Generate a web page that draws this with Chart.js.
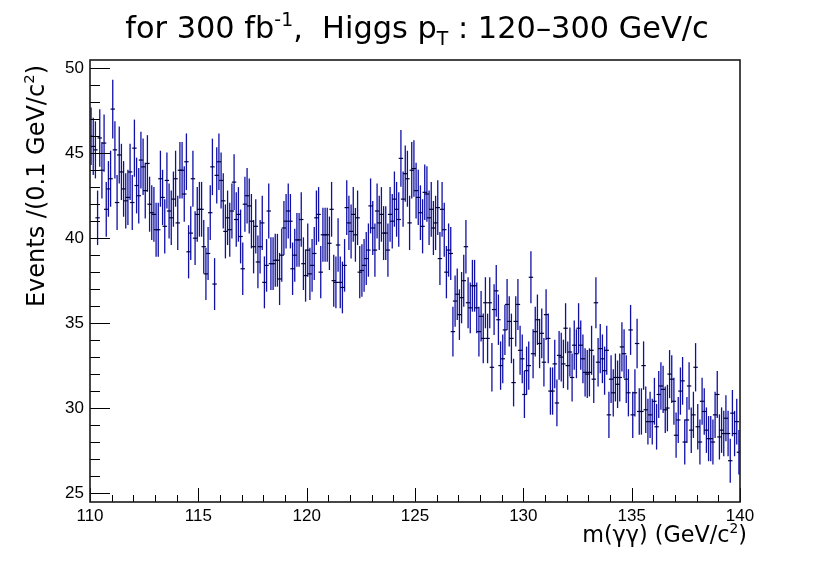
<!DOCTYPE html>
<html><head><meta charset="utf-8">
<script src="https://cdn.jsdelivr.net/npm/chart.js@4.4.1/dist/chart.umd.min.js"></script>
<style>
html,body{margin:0;padding:0;background:#fff;}
#wrap{position:relative;width:830px;height:563px;overflow:hidden;background:#fff;}
#c{position:absolute;left:0;top:0;}
.t{position:absolute;font-family:"DejaVu Sans",sans-serif;color:#000;white-space:nowrap;line-height:1;}
.t sup,.t sub{font-size:0.62em;position:relative;vertical-align:baseline;line-height:0;}
.t sup{top:-0.65em;}
.t sub{top:0.35em;}
#title{font-size:30.4px;left:2px;width:830px;text-align:center;top:13px;}
#ytitle{font-size:24px;width:320px;text-align:right;left:24px;top:385px;transform-origin:0 0;transform:rotate(-90deg);}
#xtitle{font-size:22.3px;width:400px;text-align:right;left:347px;top:523px;}
</style></head>
<body>
<div id="wrap">
<canvas id="c" width="830" height="563"></canvas>
<div class="t" id="title">for 300 fb<sup>-1</sup>,&nbsp; Higgs p<sub>T</sub> : 120–300 GeV/c</div>
<div class="t" id="ytitle">Events /(0.1 GeV/c<sup>2</sup>)</div>
<div class="t" id="xtitle">m(γγ) (GeV/c<sup>2</sup>)</div>
</div>
<script>
// ---- data: events per 0.1 GeV bin, m(γγ) from 110 to 140 GeV ----
const binStart = 110;
const binWidth = 0.1;
const xTickLabels = [110, 115, 120, 125, 130, 135, 140];
const yTickLabels = [25, 30, 35, 40, 45, 50];
const events110to115 = [46.0,45.4,45.2,41.2,45.9,44.0,45.6,41.7,42.9,43.5,47.6,45.2,42.1,44.9,43.9,42.9,42.2,42.4,43.9,42.1,45.3,43.1,42.5,44.6,44.2,42.8,44.4,42.0,41.5,41.4,40.5,40.5,43.5,42.4,40.7,43.4,41.6,41.2,42.3,43.5,40.9,44.0,44.0,42.6,44.5,39.2,40.3,43.5,40.0,41.4];
const events115to120 = [41.7,41.7,39.5,37.9,39.1,41.5,44.2,37.3,43.7,44.5,43.4,42.2,40.4,41.2,40.5,41.6,43.3,41.1,41.4,40.1,38.2,42.0,42.5,41.9,41.0,39.5,40.7,38.6,39.5,40.9,37.4,38.4,41.6,38.5,38.5,38.7,38.7,37.6,39.0,40.6,41.0,41.6,41.0,38.2,39.0,39.9,39.9,41.1,38.5,37.8];
const events120to125 = [39.3,37.9,38.4,39.1,41.2,41.4,38.0,40.2,40.2,40.2,39.7,41.7,37.5,37.4,39.6,37.4,37.1,38.4,41.8,40.9,40.4,41.4,40.2,41.2,38.0,38.1,38.4,38.8,39.3,41.9,40.6,39.3,41.6,40.9,41.4,40.3,40.3,39.3,41.4,41.0,42.3,41.7,41.1,44.7,42.3,43.8,43.5,40.9,44.0,44.1];
const events125to130 = [42.8,42.4,41.5,40.7,42.7,42.6,41.2,41.7,40.6,40.9,41.8,38.8,41.7,40.5,38.0,39.3,39.1,34.5,36.3,36.7,35.5,36.5,37.5,39.5,36.2,35.9,37.2,37.2,35.9,34.5,35.4,34.1,36.2,34.1,36.2,32.4,35.8,36.9,35.2,32.5,32.9,34.6,36.1,35.1,34.1,31.5,35.1,36.1,33.4,32.9];
const events130to135 = [30.8,32.2,32.5,37.7,33.2,34.5,35.2,33.8,34.4,32.7,35.5,34.1,31.0,31.0,32.6,30.3,33.1,33.0,32.6,34.7,32.5,33.3,31.8,33.7,33.2,34.7,33.7,32.9,32.1,32.0,32.1,33.4,31.7,36.2,32.7,33.5,32.9,32.2,33.4,29.6,31.7,30.9,31.8,31.4,31.8,33.6,33.2,31.7,30.9,34.6];
const events135to140 = [29.6,30.9,33.8,29.8,29.8,32.5,29.9,29.2,29.6,29.2,30.4,28.9,30.8,31.3,31.1,29.9,30.0,32.0,31.7,30.4,28.4,29.3,31.0,31.6,28.0,29.3,31.3,28.7,29.6,32.4,28.9,28.0,30.4,29.8,28.7,28.2,28.2,28.0,29.6,30.8,28.3,28.7,28.5,29.4,28.5,26.9,29.7,28.5,29.2,27.4];
// statistical error bar half-height relative to sqrt(content)
const errScale = 0.25;

const allEvents = [].concat(events110to115, events115to120, events120to125, events125to130, events130to135, events135to140);
const points = allEvents.map((v, i) => ({
  x: binStart + (i + 0.5) * binWidth,
  y: v,
  e: Math.sqrt(v) * errScale
}));

const barColor = 'rgb(16,16,165)';

const errorBars = {
  id: 'errorBars',
  beforeDatasetsDraw(chart) {
    const ctx = chart.ctx, xs = chart.scales.x, ys = chart.scales.y, a = chart.chartArea;
    ctx.save();
    ctx.beginPath();
    ctx.rect(a.left, a.top, a.right - a.left, a.bottom - a.top);
    ctx.clip();
    ctx.strokeStyle = barColor;
    ctx.lineWidth = 1.3;
    points.forEach(p => {
      const px = xs.getPixelForValue(p.x);
      ctx.beginPath();
      ctx.moveTo(px, ys.getPixelForValue(p.y + p.e));
      ctx.lineTo(px, ys.getPixelForValue(p.y - p.e));
      ctx.stroke();
    });
    ctx.restore();
  }
};

const frameAndTicks = {
  id: 'frameAndTicks',
  afterDraw(chart) {
    const ctx = chart.ctx, xs = chart.scales.x, ys = chart.scales.y, a = chart.chartArea;
    ctx.save();
    ctx.strokeStyle = '#000';
    ctx.lineWidth = 1;
    for (let v = Math.ceil(ys.min); v <= ys.max; v++) {
      const py = Math.round(ys.getPixelForValue(v)) + 0.5;
      const len = yTickLabels.includes(v) ? 20 : 10;
      ctx.beginPath(); ctx.moveTo(a.left, py); ctx.lineTo(a.left + len, py); ctx.stroke();
    }
    for (let v = Math.ceil(xs.min); v <= xs.max; v++) {
      const px = Math.round(xs.getPixelForValue(v)) + 0.5;
      const len = xTickLabels.includes(v) ? 14 : 7;
      ctx.beginPath(); ctx.moveTo(px, a.bottom); ctx.lineTo(px, a.bottom - len); ctx.stroke();
    }
    ctx.strokeStyle = '#1a1a1a';
    ctx.lineWidth = 1.6;
    ctx.strokeRect(a.left, a.top, a.right - a.left, a.bottom - a.top);
    ctx.restore();
  }
};

new Chart(document.getElementById('c'), {
  type: 'scatter',
  data: {
    datasets: [{
      data: points,
      pointStyle: 'line',
      pointRadius: 2.2,
      pointHoverRadius: 2.2,
      borderColor: '#00003a',
      backgroundColor: '#00003a',
      borderWidth: 1.2,
      showLine: false
    }]
  },
  options: {
    responsive: false,
    animation: false,
    devicePixelRatio: 1,
    layout: { padding: { left: 0, right: 90, top: 60, bottom: 0 } },
    plugins: { legend: { display: false }, tooltip: { enabled: false }, title: { display: false } },
    scales: {
      x: {
        type: 'linear', min: 110, max: 140,
        grid: { display: false, drawTicks: false },
        border: { display: false },
        afterFit(s) { s.height = 61; },
        afterBuildTicks(s) { s.ticks = xTickLabels.map(v => ({ value: v })); },
        ticks: { padding: 4, color: '#000', maxRotation: 0, autoSkip: false,
          font: { family: '"Liberation Sans", Arial, sans-serif', size: 17 },
          callback: v => String(v) }
      },
      y: {
        type: 'linear', min: 24.47, max: 50.49,
        grid: { display: false, drawTicks: false },
        border: { display: false },
        afterFit(s) { s.width = 90; },
        afterBuildTicks(s) { s.ticks = yTickLabels.map(v => ({ value: v })); },
        ticks: { padding: 6, color: '#000', autoSkip: false,
          font: { family: '"Liberation Sans", Arial, sans-serif', size: 17 },
          callback: v => String(v) }
      }
    }
  },
  plugins: [errorBars, frameAndTicks]
});
</script>
</body></html>
